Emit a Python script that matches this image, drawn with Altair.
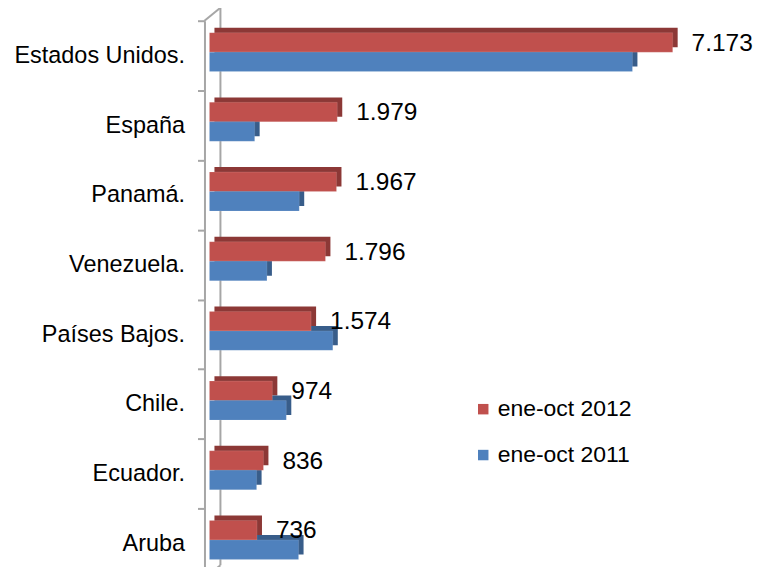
import altair as alt
import pandas as pd

countries = ["Estados Unidos.", "España", "Panamá.", "Venezuela.", "Países Bajos.", "Chile.", "Ecuador.", "Aruba"]
v2012 = [7173, 1979, 1967, 1796, 1574, 974, 836, 736]
v2011 = [6550, 700, 1390, 890, 1910, 1190, 730, 1380]
series = ["ene-oct 2012", "ene-oct 2011"]

rows = []
for c, a, b in zip(countries, v2012, v2011):
    rows.append({"country": c, "series": series[0], "value": a,
                 "label": f"{a:,}".replace(",", ".")})
    rows.append({"country": c, "series": series[1], "value": b,
                 "label": f"{b:,}".replace(",", ".")})
df = pd.DataFrame(rows)

W, H = 518, 547
YR = 559
FONT = "Liberation Sans"

yaxis = alt.Axis(title=None, offset=5, tickBand="extent", tickSize=7,
                 tickColor="#A6A6A6", tickWidth=2, domainColor="#A6A6A6",
                 domainWidth=2, labelFontSize=23.5, labelFont=FONT,
                 labelColor="#000000", labelPadding=13)
yscale = alt.Scale(domain=countries, range=[0, YR], paddingInner=0, paddingOuter=0)
front_off = alt.Scale(domain=series, range=[12, 51], paddingInner=0, paddingOuter=0)
back_off = alt.Scale(domain=series, range=[7, 46], paddingInner=0, paddingOuter=0)
xscale = alt.Scale(domain=[0, 8000], nice=False)

base = alt.Chart(df)

dark = base.mark_bar(xOffset=5).encode(
    x=alt.X("value:Q", scale=xscale, axis=None),
    y=alt.Y("country:N", scale=yscale, axis=yaxis),
    yOffset=alt.YOffset("series:N", scale=back_off),
    color=alt.Color("series:N", scale=alt.Scale(domain=series, range=["#8C3836", "#385D8A"]), legend=None),
)

front = base.mark_bar(stroke="white", strokeOpacity=0.25, strokeWidth=0.5).encode(
    x=alt.X("value:Q", scale=xscale, axis=None),
    y=alt.Y("country:N", scale=yscale, axis=yaxis),
    yOffset=alt.YOffset("series:N", scale=front_off),
    color=alt.Color("series:N", scale=alt.Scale(domain=series, range=["#C0504D", "#4F81BD"]),
                    legend=alt.Legend(title=None, orient="none", legendX=263, legendY=378,
                                      symbolType="square", symbolSize=110,
                                      symbolStrokeWidth=0, labelFontSize=23, labelFont=FONT,
                                      labelColor="#000000", rowPadding=22, labelOffset=3)),
)

text = base.transform_filter(alt.datum.series == series[0]).mark_text(
    align="left", baseline="middle", dx=19, dy=11, fontSize=24.5, font=FONT, color="#000000"
).encode(
    x=alt.X("value:Q", scale=xscale, axis=None),
    y=alt.Y("country:N", scale=yscale, axis=yaxis),
    yOffset=alt.YOffset("series:N", scale=front_off),
    text="label:N",
)

one = alt.Chart(pd.DataFrame({"a": [0]}))
gray = "#A6A6A6"
back_line = one.mark_rule(color=gray, strokeWidth=2).encode(
    x=alt.value(11), y=alt.value(-13), y2=alt.value(YR - 13))
top_diag = one.mark_rule(color=gray, strokeWidth=2).encode(
    x=alt.value(-5), x2=alt.value(11), y=alt.value(0), y2=alt.value(-13))
bot_diag = one.mark_rule(color=gray, strokeWidth=2).encode(
    x=alt.value(-5), x2=alt.value(11), y=alt.value(YR), y2=alt.value(YR - 13))

chart = alt.layer(back_line, top_diag, bot_diag, dark, front, text).properties(
    width=W, height=H,
    autosize=alt.AutoSizeParams(type="none"),
    padding={"left": 202, "top": 12, "right": 30, "bottom": 0},
).configure_view(stroke=None).resolve_scale(color="independent", yOffset="independent")

chart.save("out.html", embed_options={"renderer": "svg", "actions": False})
